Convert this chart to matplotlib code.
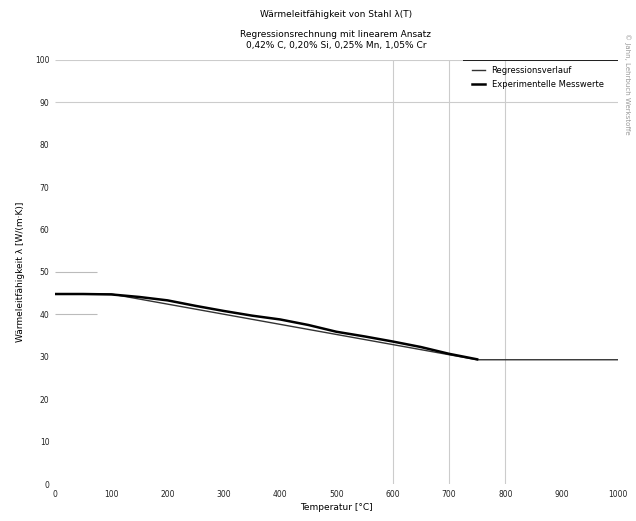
import numpy as np
import matplotlib.pyplot as plt

temp_exp = [0, 50, 100, 150, 200, 250, 300, 350, 400, 450, 500, 550, 600, 650, 700, 750]
lam_exp = [44.8, 44.8, 44.7, 44.1, 43.3, 42.0, 40.8, 39.7, 38.8, 37.5, 35.9, 34.8, 33.6, 32.3, 30.7, 29.4]

# Regressionsverlauf
temp_reg = [0, 100, 750, 1000]
lam_reg = [44.8, 44.8, 29.3, 29.3]

xticks = [0, 100, 200, 300, 400, 500, 600, 700, 800, 900, 1000]
yticks = [0, 10, 20, 30, 40, 50, 60, 70, 80, 90, 100]

fig = plt.figure(figsize=(6.36, 5.21), dpi=100)
ax = fig.add_axes([0.0865, 0.071, 0.885, 0.814])

# nur einzelne Gitterlinien wie im Original
ax.hlines([90, 100], 0, 1000, color='#cccccc', lw=0.8, zorder=1)
ax.vlines([600, 700, 800], 0, 100, color='#cccccc', lw=0.8, zorder=1)
ax.hlines([40, 50], 0, 75, color='#bbbbbb', lw=0.8, zorder=1)
ax.hlines(100, 725, 1000, color='black', lw=1.2, zorder=2)

ax.plot(temp_reg, lam_reg, color='#333333', lw=1.0, label='Regressionsverlauf', zorder=3)
ax.plot(temp_exp, lam_exp, color='black', lw=1.8, label='Experimentelle Messwerte', zorder=4)

ax.set_xlim(0, 1000)
ax.set_ylim(0, 100)
ax.set_xticks(xticks)
ax.set_yticks(yticks)
ax.tick_params(labelsize=5.5, length=0, colors='#222222', pad=4)
for s in ax.spines.values():
    s.set_visible(False)

ax.set_xlabel('Temperatur [°C]', fontsize=6.5, labelpad=3)
ax.set_ylabel('Wärmeleitfähigkeit λ [W/(m·K)]', fontsize=6.5, labelpad=7)

ax.legend(loc='upper right', bbox_to_anchor=(0.985, 1.0), frameon=False, fontsize=6,
          handlelength=1.6, borderaxespad=0.3, labelspacing=0.6)

fig.text(0.528, 0.972, 'Wärmeleitfähigkeit von Stahl λ(T)', ha='center', va='center', fontsize=6.5)
fig.text(0.528, 0.934, 'Regressionsrechnung mit linearem Ansatz', ha='center', va='center', fontsize=6.5)
fig.text(0.528, 0.913, '0,42% C, 0,20% Si, 0,25% Mn, 1,05% Cr', ha='center', va='center', fontsize=6.5)
fig.text(0.986, 0.84, '© Jahn, Lehrbuch Werkstoffe', rotation=270, ha='center', va='center',
         fontsize=5, color='#999999')

fig.savefig('out.png', dpi=100)
